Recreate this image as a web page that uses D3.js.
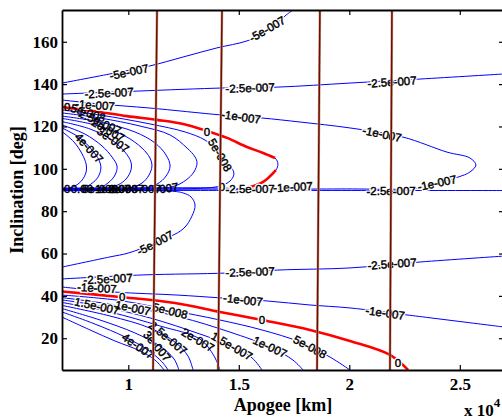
<!DOCTYPE html>
<html>
<head>
<meta charset="utf-8">
<script src="https://cdn.jsdelivr.net/npm/d3@7/dist/d3.min.js"></script>
<style>
body { margin: 0; background: #fff; }
</style>
</head>
<body>
<script>

// axis ticks
var xTicks = [10000, 15000, 20000, 25000];
var yTicks = [20, 40, 60, 80, 100, 120, 140, 160];

// contour lines, [apogee km, inclination deg]
// above 90 deg
var upMinus5 = [[7000,140.5],[9170,144.8],[10980,148.6],[12480,152.8],[14010,157.1],[15370,160.4],[16230,164.6],[17140,172.6],[17450,175]];
var upMinus25 = [[7000,135.3],[10390,136.7],[14380,138.2],[16770,138.6],[20030,140.5],[23200,142.4],[27000,144.8]];
var upMinus1 = [[7000,132.5],[8720,130.6],[10980,128.7],[14240,125.4],[16050,124.0],[17770,122.1],[20030,119.3],[22430,115.0],[24420,107.9],[25460,105.1],[25730,101.8],[25460,98.5],[24920,96.1],[23970,93.3],[23110,90.9],[19580,90.5],[7000,90.45]];
var upZero = [[7000,129.2],[8400,127.3],[9940,124.9],[11300,123.1],[12480,121.2],[13560,117.9],[14470,114.6],[15370,110.3],[16100,107.5],[16640,105.1],[16770,102.3],[16680,99.4],[16100,93.8],[15510,91.4],[15050,90.5],[14380,90.9],[7000,90.9]];
var upP05 = [[7000,127.8],[8720,125.4],[10980,121.2],[12570,117.4],[13470,113.6],[14150,107.9],[14600,101.8],[14780,97.6],[14600,94.2],[14150,91.9],[13240,90.8],[7000,90.8]];
var upP1 = [[7000,126.4],[8720,124.0],[10530,120.2],[11890,116.0],[12660,109.8],[13020,105.6],[13110,102.7],[12970,98.5],[12610,94.7],[12110,91.9],[11210,90.65],[7000,90.65]];
var upP15 = [[7000,124.9],[8720,122.1],[10300,117.4],[11210,112.2],[11710,106.5],[11890,101.3],[11710,96.6],[11300,92.8],[10530,90.5],[7000,90.5]];
var upP2 = [[7000,123.8],[8490,120.7],[9850,115.5],[10620,109.8],[10980,105.1],[11070,101.3],[10940,97.1],[10620,93.3],[9850,90.4],[7000,90.4]];
var upP25 = [[7000,122.3],[8270,118.8],[9260,113.6],[9850,107.9],[10120,103.2],[10120,99.4],[9900,95.2],[9530,92.4],[8720,90.3],[7000,90.3]];
var upP3 = [[7000,120.7],[8040,116.4],[8810,110.8],[9260,105.6],[9490,101.3],[9400,97.1],[9080,93.3],[8490,90.2],[7000,90.2]];
var upP35 = [[7000,119.3],[7810,114.6],[8360,108.9],[8670,104.2],[8760,100.4],[8630,96.1],[8310,92.8],[7810,90.1],[7000,90.1]];
var upP4 = [[7000,117.6],[7540,112.7],[7910,107.0],[8090,102.3],[8090,98.5],[7910,94.7],[7590,91.9],[7000,90.05]];

// below 90 deg
var alongNinety = [[7000,89.8],[16000,89.8],[27000,89.75]];
var lowMinus5 = [[7000,53.6],[9170,58.4],[9990,60.2],[11210,65.0],[12480,71.6],[12880,77.7],[13020,82.9],[12840,86.7],[12480,88.6],[11890,89.5],[7000,89.6]];
var lowMinus25 = [[7000,48.0],[10670,49.9],[14470,50.8],[16770,52.2],[20030,53.2],[23200,56.0],[27000,58.8]];
var lowMinus1 = [[7000,44.2],[9400,41.8],[12200,40.4],[14240,39.0],[16280,37.6],[18220,35.7],[20030,34.3],[22610,31.0],[27000,25.3]];
var lowZero = [[7000,42.1],[9620,39.5],[12110,36.6],[14150,32.4],[16050,28.6],[18220,23.9],[20030,18.7],[21840,12.1],[22660,5.0]];
var lowP05 = [[7000,40.4],[9620,37.8],[11890,33.3],[14150,28.6],[16050,23.9],[17770,18.2],[19130,11.1],[20030,5.0]];
var lowP1 = [[7000,39.2],[10210,34.5],[12340,30.0],[14600,22.9],[16410,15.9],[17450,9.7],[17910,5.0]];
var lowP15 = [[7000,38.1],[8580,35.5],[10980,29.6],[13240,22.0],[14690,16.3],[15600,10.7],[16050,5.0]];
var lowP2 = [[7000,36.9],[9170,32.4],[11430,25.8],[13240,19.6],[13880,11.6],[14150,5.0]];
var lowP25 = [[7000,35.5],[9170,30.5],[10980,24.8],[12110,18.2],[12700,11.6],[12930,5.0]];
var lowP3 = [[7000,34.0],[8720,28.6],[10300,22.5],[11430,16.3],[12070,10.2],[12290,5.0]];
var lowP35 = [[7000,32.4],[8490,26.7],[9850,20.6],[10890,14.4],[11530,8.8],[11800,5.0]];
var lowP4 = [[7000,30.0],[8270,23.9],[9400,18.7],[10530,14.0],[11210,9.7],[11620,5.0]];

// zero level drawn again in red (upper one has a small gap at its tip)
var redUpper = [[7000,129.2],[8400,127.3],[9940,124.9],[11300,123.1],[12480,121.2],[13560,117.9],[14470,114.6],[15370,110.3],[16100,107.5],[16640,105.1]];
var redUpperTail = [[16680,99.4],[16100,93.8],[15510,91.4],[15050,90.5]];
var redLower = lowZero;

// dark red lines: apogee at top and at bottom of the plot
var markTop = [11300, 14240, 18670, 21930];
var markBottom = [11120, 14060, 18540, 21840];

// contour labels: text, apogee, inclination, angle
var labels = [
  ["-5e-007", 10030, 145.7, -12], ["-5e-007", 16280, 166.0, -30],
  ["-2.5e-007", 9130, 135.8, -3], ["-2.5e-007", 15510, 138.2, -2], ["-2.5e-007", 21930, 141.0, -4],
  ["-1e-007", 8490, 130.1, 4], ["-1e-007", 15100, 124.5, 8], ["-1e-007", 21480, 116.4, 12], ["-1e-007", 23970, 93.3, -12],
  ["0", 13560, 117.4, 0], ["5e-008", 14150, 106.5, 60],
  ["0", 14240, 91.4, 0], ["-2.5e-007", 15510, 90.5, 0], ["-1e-007", 17450, 91.4, -3], ["-2.5e-007", 21890, 89.5, 0],
  ["-5e-007", 11210, 65.0, -28],
  ["-2.5e-007", 9080, 48.0, -3], ["-2.5e-007", 15510, 51.3, -2], ["-2.5e-007", 21930, 55.1, -4],
  ["-1e-007", 8580, 43.7, 3], ["-1e-007", 15190, 38.1, 6], ["-1e-007", 21620, 31.9, 8],
  ["0", 9720, 39.5, 0], ["0", 16050, 28.6, 0], ["0", 22200, 8.3, 0],
  ["1.5e-007", 8580, 35.2, 12], ["1e-007", 10210, 34.3, 12], ["5e-008", 11890, 32.9, 14],
  ["1.5e-007", 14690, 16.3, 30], ["1e-007", 16410, 15.9, 25], ["5e-008", 18220, 15.9, 28]
];
// labels crowded together near the left edge
var pileLabels = [
  ["0", 7230, 129.2, 0], ["5e-008", 8180, 126.4, 18], ["2.5e-007", 8720, 122.1, 25], ["2e-007", 9080, 118.3, 30],
  ["3e-007", 9310, 113.6, 35], ["4e-007", 8220, 109.8, 48],
  ["0", 7230, 90.3, 0], ["0.00", 7900, 90.3, 0], ["5e-008", 8720, 90.3, 0], ["1e-007", 9300, 90.3, 0],
  ["2e-007", 9900, 90.3, 0], ["0.003-007", 10300, 90.3, 0], ["-007", 11750, 90.8, -8],
  ["2.5e-007", 11800, 20.1, 40], ["3e-007", 11300, 16.3, 50], ["2e-007", 13150, 19.2, 30], ["4e-007", 10440, 16.3, 35]
];

var blueLines = [upMinus5, upMinus25, upMinus1, upZero, upP05, upP1, upP15, upP2, upP25, upP3, upP35, upP4,
  alongNinety, lowMinus5, lowMinus25, lowMinus1, lowZero, lowP05, lowP1, lowP15, lowP2, lowP25, lowP3, lowP35, lowP4];
var redLines = [redUpper, redUpperTail, redLower];

var w = 502, h = 419;
var plotLeft = 62, plotRight = 504, plotTop = 10, plotBottom = 370;

var svg = d3.select("body").append("svg")
  .attr("width", w)
  .attr("height", h);

var x = d3.scaleLinear().domain([7000, 27000]).range([plotLeft, plotRight]);
var y = d3.scaleLinear().domain([5, 175]).range([plotBottom, plotTop]);

svg.append("clipPath").attr("id", "plotClip")
  .append("rect")
  .attr("x", plotLeft).attr("y", plotTop)
  .attr("width", plotRight - plotLeft).attr("height", plotBottom - plotTop);

var plot = svg.append("g").attr("clip-path", "url(#plotClip)");

var line = d3.line()
  .x(function(d) { return x(d[0]); })
  .y(function(d) { return y(d[1]); })
  .curve(d3.curveCatmullRom.alpha(0.5));

//Blue contours
plot.selectAll("path.blue")
  .data(blueLines)
  .enter().append("path")
  .attr("class", "blue")
  .attr("d", line)
  .attr("fill", "none")
  .attr("stroke", "#0000ff")
  .attr("stroke-width", 1);

//Zero level in red
plot.selectAll("path.red")
  .data(redLines)
  .enter().append("path")
  .attr("class", "red")
  .attr("d", line)
  .attr("fill", "none")
  .attr("stroke", "#ff0000")
  .attr("stroke-width", 2.6);

//Labels; the isolated ones cut a white gap in their line
function drawLabels(data, halo) {
  var g = plot.append("g");
  var layers = halo ? ["gap", "ink"] : ["ink"];
  layers.forEach(function(layer) {
    g.append("g").selectAll("text")
      .data(data)
      .enter().append("text")
      .text(function(d) { return d[0]; })
      .attr("transform", function(d) {
        return "translate(" + x(d[1]) + "," + y(d[2]) + ") rotate(" + d[3] + ")";
      })
      .attr("text-anchor", "middle")
      .attr("dy", "0.35em")
      .attr("font-family", "Liberation Sans, Arial, sans-serif")
      .attr("font-size", "11.5px")
      .attr("fill", layer == "gap" ? "#fff" : "#000")
      .attr("stroke", layer == "gap" ? "#fff" : "#000")
      .attr("stroke-width", layer == "gap" ? 3 : 0.45);
  });
}
drawLabels(labels, true);
drawLabels(pileLabels, false);

//Dark red vertical lines
var marks = plot.append("g").selectAll("g")
  .data(d3.range(markTop.length))
  .enter().append("g");
marks.append("line")
  .attr("x1", function(i) { return x(markTop[i]); })
  .attr("x2", function(i) { return x(markBottom[i]); })
  .attr("y1", y(175)).attr("y2", y(5))
  .attr("stroke", "#c2a88e")
  .attr("stroke-width", 2.6);
marks.append("line")
  .attr("x1", function(i) { return x(markTop[i]); })
  .attr("x2", function(i) { return x(markBottom[i]); })
  .attr("y1", y(175)).attr("y2", y(5))
  .attr("stroke", "#740a00")
  .attr("stroke-width", 1.5);

//Axes, ticks pointing in
function styleAxis(g) {
  g.attr("font-family", "Liberation Serif, Times New Roman, serif")
    .attr("font-size", "17px")
    .attr("font-weight", "bold");
  g.selectAll("path.domain").attr("stroke", "#000").attr("stroke-width", 1.8);
  g.selectAll(".tick line").attr("stroke", "#000").attr("stroke-width", 1.2);
  g.selectAll(".tick text").attr("fill", "#000");
}

svg.append("g")
  .attr("transform", "translate(0," + plotBottom + ")")
  .call(d3.axisBottom(x).tickValues(xTicks).tickFormat(function(d) { return d / 10000; })
    .tickSizeInner(-5).tickSizeOuter(0).tickPadding(8))
  .call(styleAxis);

svg.append("g")
  .attr("transform", "translate(0," + plotTop + ")")
  .call(d3.axisTop(x).tickValues(xTicks).tickFormat("").tickSizeInner(-5).tickSizeOuter(0))
  .call(styleAxis);

svg.append("g")
  .attr("transform", "translate(" + plotLeft + ",0)")
  .call(d3.axisLeft(y).tickValues(yTicks).tickSizeInner(-5).tickSizeOuter(0).tickPadding(4))
  .call(styleAxis);

svg.append("g")
  .attr("transform", "translate(" + plotRight + ",0)")
  .call(d3.axisRight(y).tickValues(yTicks).tickFormat("").tickSizeInner(-5).tickSizeOuter(0))
  .call(styleAxis);

//Axis titles
svg.append("text")
  .text("Apogee [km]")
  .attr("x", (plotLeft + plotRight) / 2)
  .attr("y", 411)
  .attr("text-anchor", "middle")
  .attr("font-family", "Liberation Serif, Times New Roman, serif")
  .attr("font-size", "18px")
  .attr("font-weight", "bold");

svg.append("text")
  .text("Inclination [deg]")
  .attr("transform", "translate(23," + (plotTop + plotBottom) / 2 + ") rotate(-90)")
  .attr("text-anchor", "middle")
  .attr("font-family", "Liberation Serif, Times New Roman, serif")
  .attr("font-size", "18px")
  .attr("font-weight", "bold");

var mult = svg.append("text")
  .attr("x", 464)
  .attr("y", 416)
  .attr("font-family", "Liberation Serif, Times New Roman, serif")
  .attr("font-size", "17px")
  .attr("font-weight", "bold");
mult.append("tspan").text("x 10");
mult.append("tspan").text("4").attr("font-size", "13px").attr("dy", -9);

</script>
</body>
</html>
